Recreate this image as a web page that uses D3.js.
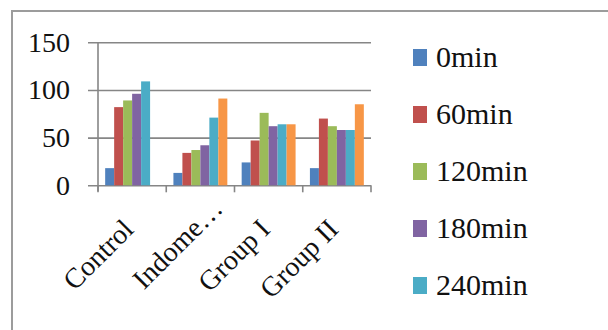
<!DOCTYPE html>
<html>
<head>
<meta charset="utf-8">
<script src="https://cdn.jsdelivr.net/npm/d3@7"></script>
<style>
  html, body { margin: 0; padding: 0; background: #fff; }
  svg { display: block; }
</style>
</head>
<body>
<svg id="chart" width="608" height="330"></svg>
<script>
// Groups along the x axis
const categories = ["Control", "Indomethacin", "Group I", "Group II"];

// Time points (one bar per group each)
const seriesNames = ["0min", "60min", "120min", "180min", "240min", "300min"];

// Values per time point, in category order (null = not measured)
const values0   = [18, 13, 24, 18];
const values60  = [82, 34, 47, 70];
const values120 = [89, 37, 76, 62];
const values180 = [96, 42, 62, 58];
const values240 = [109, 71, 64, 58];
const values300 = [null, 91, 64, 85];

const yTicks = [0, 50, 100, 150];

const seriesValues = [values0, values60, values120, values180, values240, values300];
const colors = ["#4F81BD", "#C0504D", "#9BBB59", "#8064A2", "#4BACC6", "#F79646"];

const W = 608, H = 330;
const FONT = '"Liberation Serif"';
const TEXT_COLOR = "#111";
const svg = d3.select("#chart");

// Outer chart frame (runs past the right and bottom edges)
svg.append("rect")
  .attr("x", 12).attr("y", 11)
  .attr("width", 700).attr("height", 400)
  .attr("fill", "none")
  .attr("stroke", "#9c9c9c")
  .attr("stroke-width", 2);

const plot = { left: 98, right: 371, top: 42.3, bottom: 185.3 };

const x0 = d3.scaleBand()
  .domain(categories)
  .range([plot.left, plot.right])
  .paddingInner(0.21)
  .paddingOuter(0.105);

const x1 = d3.scaleBand()
  .domain(seriesNames)
  .range([0, x0.bandwidth()]);

const y = d3.scaleLinear()
  .domain([0, 150])
  .range([plot.bottom, plot.top]);

const gridColor = "#868686";

// Horizontal gridlines with their left tick stubs
const yAxis = d3.axisLeft(y)
  .tickValues(yTicks)
  .tickSize(plot.right - plot.left + 10)
  .tickSizeOuter(0)
  .tickFormat(d3.format("d"));

const gy = svg.append("g")
  .attr("transform", `translate(${plot.right},0)`)
  .call(yAxis)
  .attr("font-family", null)
  .attr("font-size", null);
gy.select(".domain").remove();
gy.selectAll(".tick line")
  .attr("stroke", gridColor)
  .attr("stroke-width", 1.6);
gy.selectAll(".tick text")
  .attr("x", -(plot.right - 70))
  .attr("fill", TEXT_COLOR)
  .style("font-family", FONT)
  .style("font-size", "28px");

// Vertical axis line
svg.append("line")
  .attr("x1", plot.left).attr("x2", plot.left)
  .attr("y1", plot.top).attr("y2", plot.bottom + 6)
  .attr("stroke", gridColor)
  .attr("stroke-width", 1.6);

// Category boundary ticks below the baseline
const step = x0.step();
const boundaries = d3.range(categories.length + 1).map(i => plot.left + i * step);
svg.append("g").selectAll("line")
  .data(boundaries)
  .join("line")
  .attr("x1", d => d).attr("x2", d => d)
  .attr("y1", plot.bottom).attr("y2", plot.bottom + 7)
  .attr("stroke", gridColor)
  .attr("stroke-width", 1.6);

// Bars
const barData = [];
categories.forEach((c, ci) => {
  seriesNames.forEach((s, si) => {
    const v = seriesValues[si][ci];
    if (v != null) barData.push({ c, s, si, v });
  });
});

svg.append("g").selectAll("rect")
  .data(barData)
  .join("rect")
  .attr("x", d => x0(d.c) + x1(d.s))
  .attr("y", d => y(d.v))
  .attr("width", x1.bandwidth())
  .attr("height", d => y(0) - y(d.v))
  .attr("fill", d => colors[d.si]);

// Rotated category labels; long names are shortened with an ellipsis
const maxChars = 9;
const labelSpan = 84;
const labelG = svg.append("g");
categories.forEach(c => {
  const truncated = c.length > maxChars;
  const label = truncated ? c.slice(0, 6) + "\u2026" : c;
  const cx = x0(c) + x0.bandwidth() / 2;
  labelG.append("text")
    .attr("transform", `translate(${cx + 3},231) rotate(-45)`)
    .attr("text-anchor", truncated ? "start" : "end")
    .attr("x", truncated ? -labelSpan : 0)
    .attr("fill", TEXT_COLOR)
    .style("font-family", FONT)
    .style("font-size", "28px")
    .text(label);
});

// Legend: only the rows that fit inside the visible area are shown
const legend = svg.append("g");
const rowGap = 57;
seriesNames.forEach((s, i) => {
  const cy = 57 + i * rowGap;
  if (cy + 24 > H) return;
  legend.append("rect")
    .attr("x", 413).attr("y", cy - 8)
    .attr("width", 14).attr("height", 17)
    .attr("fill", colors[i]);
  legend.append("text")
    .attr("x", 436).attr("y", cy + 10)
    .attr("fill", TEXT_COLOR)
    .style("font-family", FONT)
    .style("font-size", "30px")
    .text(s);
});
</script>
</body>
</html>
